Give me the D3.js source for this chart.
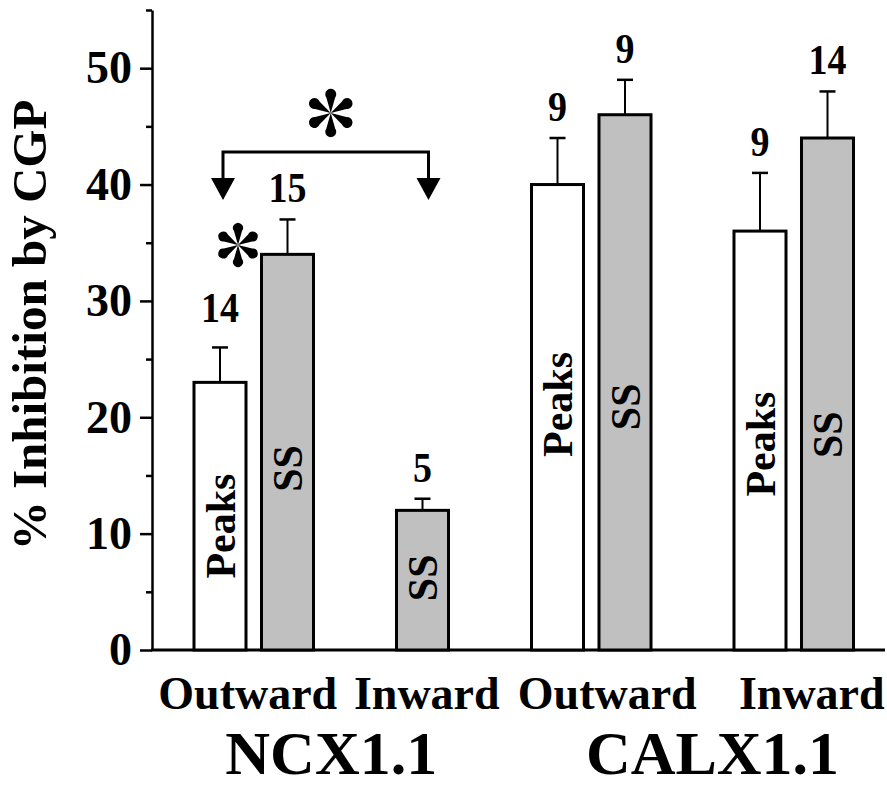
<!DOCTYPE html>
<html>
<head>
<meta charset="utf-8">
<script src="https://cdn.jsdelivr.net/npm/d3@7"></script>
<style>
  html, body { margin: 0; padding: 0; background: #fff; }
  svg { display: block; }
  text { font-family: "Liberation Serif", "Times New Roman", serif; font-weight: bold; fill: #000; }
</style>
</head>
<body>
<svg id="chart" width="887" height="788"></svg>
<script>
// ---------- data ----------
const constructs = ["NCX1.1", "CALX1.1"];
const directions = ["Outward", "Inward"];
const seriesNames = ["Peaks", "SS"];
// conditions in order: NCX1.1 Outward, NCX1.1 Inward, CALX1.1 Outward, CALX1.1 Inward
const peaksMean = [23, null, 40, 36];
const peaksErrTop = [26, null, 44, 41];
const peaksN = [14, null, 9, 9];
const ssMean = [34, 12, 46, 44];
const ssErrTop = [37, 13, 49, 48];
const ssN = [15, 5, 9, 14];
const yTicks = [0, 10, 20, 30, 40, 50];
const yMinorTicks = [5, 15, 25, 35, 45, 55];

// ---------- layout (positions only) ----------
// where the rotated in-bar label is centred, in axis units
const peaksLabelAt = [10.65, null, 21.1, 17.7];
const ssLabelAt = [15.6, 6.2, 20.9, 18.5];

const svg = d3.select("#chart");
const font = "'Liberation Serif', 'Times New Roman', serif";
const y = d3.scaleLinear().domain([0, 55]).range([650, 10]);

// slot keys (with spacer slots between condition pairs)
const conditions = [];
constructs.forEach(c => directions.forEach(d => conditions.push(c + " " + d)));
const slots = [];
conditions.forEach((cond, i) => {
  if (i >= 2) slots.push("gap" + i);
  seriesNames.forEach(s => slots.push(cond + "|" + s));
});
const x = d3.scaleBand().domain(slots).range([186.25, 861.25]).paddingInner(0.185).paddingOuter(0.0925);

const bars = [];
conditions.forEach((cond, i) => {
  [[peaksMean, peaksErrTop, peaksN, peaksLabelAt], [ssMean, ssErrTop, ssN, ssLabelAt]].forEach((arr, si) => {
    const v = arr[0][i];
    if (v == null) return;
    bars.push({ cond, series: seriesNames[si], value: v, err: arr[1][i], n: arr[2][i], labelAt: arr[3][i], key: cond + "|" + seriesNames[si], ci: i, si });
  });
});

// ---------- axes ----------
const yAxis = svg.append("g").attr("transform", "translate(152,0)")
  .call(d3.axisLeft(y).tickValues(yTicks).tickSize(12).tickSizeOuter(0).tickPadding(8).tickFormat(d3.format("d")));
yAxis.select(".domain").attr("stroke", "#000").attr("stroke-width", 2.5);
yAxis.selectAll(".tick line").attr("stroke", "#000").attr("stroke-width", 2.5);
yAxis.selectAll(".tick text").attr("font-family", font).attr("font-weight", "bold")
  .attr("font-size", 46).attr("fill", "#000");

const yMinor = svg.append("g").attr("transform", "translate(152,0)")
  .call(d3.axisLeft(y).tickValues(yMinorTicks).tickSize(6).tickFormat(""));
yMinor.select(".domain").remove();
yMinor.selectAll(".tick line").attr("stroke", "#000").attr("stroke-width", 2.5);

// baseline
svg.append("line").attr("x1", 151).attr("x2", 885).attr("y1", y(0)).attr("y2", y(0))
  .attr("stroke", "#000").attr("stroke-width", 3);

// y title
svg.append("text")
  .attr("transform", "translate(46,325) rotate(-90)")
  .attr("text-anchor", "middle").attr("font-size", 49)
  .text("% Inhibition by CGP");

// ---------- bars ----------
const g = svg.append("g");
g.selectAll("rect.bar").data(bars).join("rect")
  .attr("class", "bar")
  .attr("x", d => x(d.key) + 1.5)
  .attr("width", x.bandwidth() - 3)
  .attr("y", d => y(d.value))
  .attr("height", d => y(0) - y(d.value))
  .attr("fill", d => d.series === "SS" ? "#c0c0c0" : "#fff")
  .attr("stroke", "#000").attr("stroke-width", 3);

// error bars
const cx = d => x(d.key) + x.bandwidth() / 2;
g.selectAll("line.err").data(bars).join("line")
  .attr("class", "err")
  .attr("x1", cx).attr("x2", cx)
  .attr("y1", d => y(d.value)).attr("y2", d => y(d.err))
  .attr("stroke", "#000").attr("stroke-width", 2);
g.selectAll("line.cap").data(bars).join("line")
  .attr("class", "cap")
  .attr("x1", d => cx(d) - 8).attr("x2", d => cx(d) + 8)
  .attr("y1", d => y(d.err)).attr("y2", d => y(d.err))
  .attr("stroke", "#000").attr("stroke-width", 2.5);

// n labels
const nGap = d => (d.ci === 0 && d.si === 0) ? 25 : 17;
g.selectAll("text.n").data(bars).join("text")
  .attr("class", "n")
  .attr("transform", d => "translate(" + cx(d) + "," + (y(d.err) - nGap(d)) + ") scale(1,1.12)")
  .attr("text-anchor", "middle").attr("font-size", 38)
  .text(d => d.n);

// inside labels
g.selectAll("text.inside").data(bars).join("text")
  .attr("class", "inside")
  .attr("transform", d => "translate(" + cx(d) + "," + y(d.labelAt) + ") rotate(-90)")
  .attr("text-anchor", "middle").attr("dy", "0.35em").attr("font-size", 42)
  .text(d => d.series);

// ---------- category labels ----------
const condCenters = conditions.map(cond => {
  const a = x(cond + "|Peaks"), b = x(cond + "|SS");
  return (a + b + x.bandwidth()) / 2;
});
const dirShift = [-6, 38, 16, 18];
conditions.forEach((cond, i) => {
  svg.append("text")
    .attr("x", condCenters[i] + dirShift[i]).attr("y", 709)
    .attr("text-anchor", "middle").attr("font-size", 46)
    .text(directions[i % 2]);
});
const consShift = [10, 20];
constructs.forEach((c, i) => {
  const c0 = condCenters[i * 2], c1 = condCenters[i * 2 + 1];
  svg.append("text")
    .attr("x", (c0 + c1) / 2 + consShift[i]).attr("y", 774)
    .attr("text-anchor", "middle").attr("font-size", 62)
    .text(c);
});

// ---------- significance ----------
function star(sel, px, py, L, r) {
  const gg = sel.append("g").attr("transform", "translate(" + px + "," + py + ")");
  [-90, -30, 30, 90, 150, 210].forEach(a => {
    gg.append("path")
      .attr("d", "M0,0 L" + (L - r) + "," + (-r * 0.8) + " A" + r + "," + r + " 0 1 1 " + (L - r) + "," + (r * 0.8) + " Z")
      .attr("transform", "rotate(" + a + ")")
      .attr("fill", "#000");
  });
}
const bL = bars.find(d => d.ci === 0 && d.si === 0);
const bR = bars.find(d => d.ci === 1 && d.si === 1);
const xl = cx(bL) + 3, xr = cx(bR) + 6;
const yTop = 152, yArrowBase = 178, yTip = 200;
svg.append("path")
  .attr("d", "M" + xl + "," + yArrowBase + " V" + yTop + " H" + xr + " V" + yArrowBase)
  .attr("fill", "none").attr("stroke", "#000").attr("stroke-width", 3);
[xl, xr].forEach(xx => {
  svg.append("path")
    .attr("d", "M" + (xx - 12) + "," + yArrowBase + " L" + (xx + 12) + "," + yArrowBase + " L" + xx + "," + yTip + " Z")
    .attr("fill", "#000");
});
star(svg, (xl + xr) / 2 + 5, 113, 21, 5.5);
star(svg, 238, 245, 19, 5);
</script>
</body>
</html>
